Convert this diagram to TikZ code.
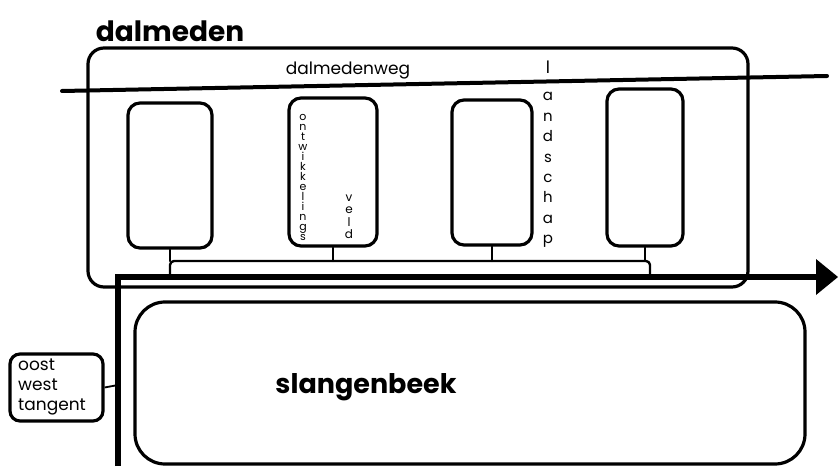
\documentclass[tikz,border=0pt]{standalone}
\usepackage{fontspec}
\setmainfont{Poppins}
\begin{document}
\begin{tikzpicture}[x=1pt,y=-1pt,
  ink/.style={draw=black,line width=3.2pt,line cap=round,line join=round},
  parcel/.style={ink,rounded corners=12pt,inner sep=0pt},
  thinline/.style={draw=black,line width=2.4pt,line cap=round,line join=round},
  stack/.style={align=center,inner sep=0pt}]
\useasboundingbox (0,0) rectangle (838,473);
% dalmeden area
\node[ink,rounded corners=16pt,minimum width=660pt,minimum height=239pt,inner sep=0pt] (dal) at (418,167.5) {};
\node[font=\fontsize{28}{28}\selectfont\bfseries,inner sep=0pt] (daltxt) at (170,31) {dalmeden};
% road
\coordinate (roadL) at (62,91);
\coordinate (roadR) at (827,76);
\draw[draw=black,line width=4pt,line cap=round] (roadL) -- (roadR);
\node[font=\fontsize{17}{17}\selectfont,inner sep=0pt] (weg) at (348,71) {dalmedenweg};
% parcels
\node[parcel,minimum width=84pt,minimum height=145pt] (p1) at (170,175.5) {};
\node[parcel,minimum width=88pt,minimum height=148pt] (p2) at (333,172) {};
\node[parcel,minimum width=80pt,minimum height=145pt] (p3) at (492,172.5) {};
\node[parcel,minimum width=76pt,minimum height=157pt] (p4) at (645,167.5) {};
% bus
\coordinate (bL) at (170,276);
\coordinate (bR) at (650,276);
\coordinate (bus) at (400,261);
\draw[thinline,rounded corners=4pt] (bL) -- (170,261) -- (650,261) -- (bR);
\draw[thinline] (p1.south) -- (p1.south |- bus);
\draw[thinline] (p2.south) -- (p2.south |- bus);
\draw[thinline] (p3.south) -- (p3.south |- bus);
\draw[thinline] (p4.south) -- (p4.south |- bus);
% stacked labels
\node[stack,font=\fontsize{11}{10}\selectfont] (ontw) at (303,177) {o\\n\\t\\w\\i\\k\\k\\e\\l\\i\\n\\g\\s};
\node[stack,font=\fontsize{12}{12.5}\selectfont] (veld) at (349,217) {v\\e\\l\\d};
\node[font=\fontsize{17}{17}\selectfont,inner sep=0pt] (landl) at (548,67) {l};
\node[stack,font=\fontsize{15}{20.4}\selectfont] (land) at (548,170) {a\\n\\d\\s\\c\\h\\a\\p};
% main thick arrow
\coordinate (vB) at (118,466);
\coordinate (corner) at (118,277);
\coordinate (arrEnd) at (820,277);
\draw[draw=black,line width=6pt,line join=miter] (vB) -- (corner) -- (arrEnd);
\fill[black] (816,259) -- (838,277) -- (816,295) -- cycle;
% slangenbeek
\node[ink,rounded corners=30pt,minimum width=670pt,minimum height=162pt,inner sep=0pt] (slang) at (470,383) {};
\node[font=\fontsize{27}{27}\selectfont\bfseries,inner sep=0pt] (slangtxt) at (366,387) {slangenbeek};
% oost west tangent
\node[ink,rounded corners=10pt,minimum width=93pt,minimum height=67pt,inner sep=0pt] (owt) at (56.5,387.5) {};
\node[align=left,font=\fontsize{17}{20}\selectfont,inner sep=0pt,anchor=west] (owttxt) at (18,387) {oost\\west\\tangent};
\coordinate (owtJ) at (118,385);
\draw[draw=black,line width=1.8pt] (owt.east) -- (owtJ);
\end{tikzpicture}
\end{document}
